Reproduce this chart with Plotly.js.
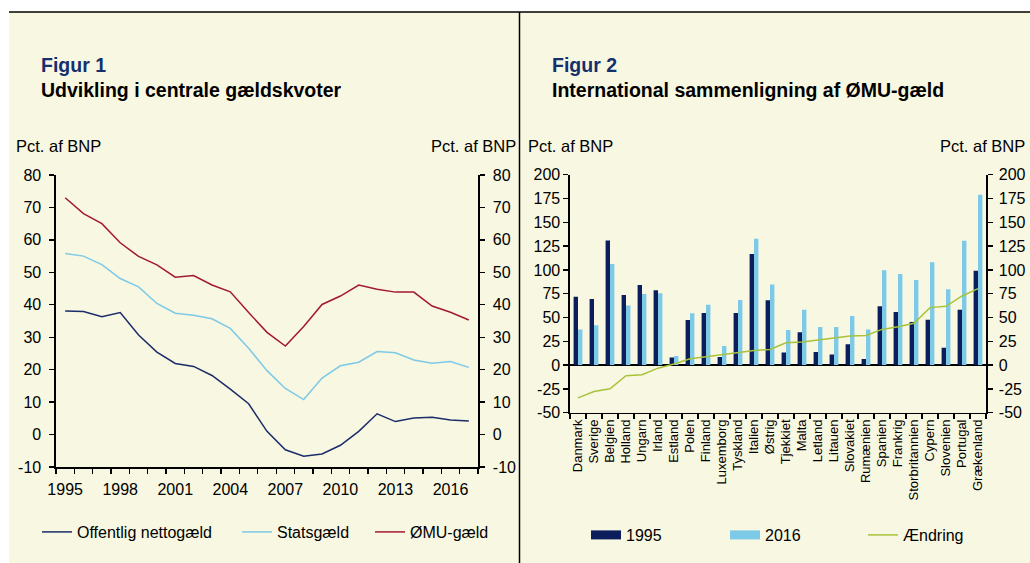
<!DOCTYPE html>
<html>
<head>
<meta charset="utf-8">
<script src="https://cdn.plot.ly/plotly-3.0.1.min.js"></script>
<style>
html, body { margin: 0; padding: 0; background: #ffffff; }
#chart { width: 1030px; height: 563px; }
</style>
</head>
<body>
<div id="chart"></div>
<script>
// ---------- Figur 1 data ----------
const years = [1995, 1996, 1997, 1998, 1999, 2000, 2001, 2002, 2003, 2004, 2005, 2006,
               2007, 2008, 2009, 2010, 2011, 2012, 2013, 2014, 2015, 2016, 2017];
const nettogaeld = [38.1, 37.9, 36.3, 37.6, 30.7, 25.4, 21.9, 21.0, 18.2, 14.0, 9.5, 1.0,
                    -4.7, -6.7, -6.0, -3.3, 1.0, 6.4, 4.0, 5.1, 5.3, 4.5, 4.2];
const statsgaeld = [55.8, 55.0, 52.4, 48.1, 45.5, 40.4, 37.4, 36.8, 35.7, 32.7, 26.6, 19.7,
                    14.2, 10.8, 17.4, 21.2, 22.3, 25.6, 25.2, 23.0, 22.0, 22.5, 20.7];
const emuGaeld   = [73.0, 68.1, 65.0, 59.1, 54.9, 52.3, 48.5, 49.0, 46.1, 44.0, 37.6, 31.5,
                    27.3, 33.3, 40.1, 42.7, 46.1, 44.8, 43.9, 43.9, 39.6, 37.7, 35.3];
const yearTickVals = [1995, 1998, 2001, 2004, 2007, 2010, 2013, 2016];
const fig1YTickVals = [-10, 0, 10, 20, 30, 40, 50, 60, 70, 80];
const fig1YTickText = ['-10', '0', '10', '20', '30', '40', '50', '60', '70', '80'];

// ---------- Figur 2 data ----------
const countries = ['Danmark', 'Sverige', 'Belgien', 'Holland', 'Ungarn', 'Irland', 'Estland',
                   'Polen', 'Finland', 'Luxemborg', 'Tyskland', 'Italien', 'Østrig', 'Tjekkiet',
                   'Malta', 'Letland', 'Litauen', 'Slovakiet', 'Rumænien', 'Spanien', 'Frankrig',
                   'Storbritannien', 'Cypern', 'Slovenien', 'Portugal', 'Grækenland'];
const debt1995 = [71.9, 69.5, 130.9, 73.7, 84.2, 78.6, 8.1, 47.4, 54.7, 8.4, 54.7, 116.8, 68.1,
                  13.3, 34.4, 13.7, 11.2, 21.8, 6.3, 61.8, 55.8, 45.3, 47.7, 18.2, 58.2, 99.0];
const debt2016 = [37.5, 41.8, 106.3, 62.5, 74.7, 75.4, 9.5, 54.4, 63.5, 20.0, 68.4, 132.6, 84.6,
                  36.8, 58.2, 40.0, 40.0, 51.6, 37.5, 99.7, 95.8, 89.5, 108.1, 79.7, 130.5, 179.0];
const aendring = [-34.4, -27.7, -24.9, -11.2, -10.2, -3.2, 1.1, 6.7, 8.8, 11.2, 13.3, 15.4, 16.5,
                  23.5, 24.2, 26.3, 28.8, 30.5, 31.2, 37.5, 40.4, 43.9, 60.4, 61.8, 72.6, 80.4];
const fig2YTickVals = [-50, -25, 0, 25, 50, 75, 100, 125, 150, 175, 200];
const fig2YTickText = ['-50', '-25', '0', '25', '50', '75', '100', '125', '150', '175', '200'];

// ---------- helpers / styles ----------
const W = 1030, H = 563;
const px = x => x / W;
const py = y => 1 - y / H;
const FONT = '"Liberation Sans", Arial, sans-serif';
const CREAM = '#F8F7E1';
const NAVY_LINE = '#1B2C6B';
const LIGHT_BLUE = '#7CC9E8';
const RED = '#A3192F';
const NAVY_BAR = '#0B1D5A';
const GREEN = '#A9C23C';
const TITLE_NAVY = '#15306E';

const traces = [
  { type: 'scatter', mode: 'lines', name: 'Offentlig nettogæld', x: years, y: nettogaeld,
    xaxis: 'x', yaxis: 'y', line: { color: NAVY_LINE, width: 1.5 }, legend: 'legend' },
  { type: 'scatter', mode: 'lines', name: 'Statsgæld', x: years, y: statsgaeld,
    xaxis: 'x', yaxis: 'y', line: { color: LIGHT_BLUE, width: 1.5 }, legend: 'legend2' },
  { type: 'scatter', mode: 'lines', name: 'ØMU-gæld', x: years, y: emuGaeld,
    xaxis: 'x', yaxis: 'y2', line: { color: RED, width: 1.5 }, legend: 'legend3' },
  { type: 'bar', name: '1995', x: countries, y: debt1995, xaxis: 'x2', yaxis: 'y3',
    marker: { color: NAVY_BAR, line: { width: 0 } }, showlegend: false, legendgroup: 'b1995' },
  { type: 'bar', name: '2016', x: countries, y: debt2016, xaxis: 'x2', yaxis: 'y3',
    marker: { color: LIGHT_BLUE, line: { width: 0 } }, showlegend: false, legendgroup: 'b2016' },
  { type: 'scatter', mode: 'lines', name: 'Ændring', x: countries, y: aendring,
    xaxis: 'x2', yaxis: 'y4', line: { color: GREEN, width: 1.5 }, legend: 'legend6' },
  // legend keys for the bar series (rectangular keys as in the original; they draw nothing in the plot)
  { type: 'scatter', mode: 'lines', name: '1995', x: [null], y: [null], xaxis: 'x2', yaxis: 'y3',
    line: { color: NAVY_BAR, width: 9 }, legend: 'legend4', legendgroup: 'b1995' },
  { type: 'scatter', mode: 'lines', name: '2016', x: [null], y: [null], xaxis: 'x2', yaxis: 'y3',
    line: { color: LIGHT_BLUE, width: 9 }, legend: 'legend5', legendgroup: 'b2016' }
];

const yCommon = {
  ticks: 'outside', ticklen: 5, tickwidth: 1.3, tickcolor: '#000',
  showline: true, linecolor: '#000', linewidth: 1.6,
  showgrid: false, zeroline: false, fixedrange: true,
  tickfont: { family: FONT, size: 16, color: '#000' }, tickmode: 'array'
};

function legendAt(xText, yCenter) {
  return {
    x: px(xText - 40), y: py(yCenter), xanchor: 'left', yanchor: 'middle',
    orientation: 'h', bgcolor: 'rgba(0,0,0,0)', borderwidth: 0,
    font: { family: FONT, size: 16, color: '#000' }, itemclick: false, itemdoubleclick: false
  };
}

const ann = (text, x, y, anchor, size, color) => ({
  text: text, x: px(x), y: py(y), xref: 'paper', yref: 'paper',
  xanchor: anchor, yanchor: 'middle', showarrow: false,
  font: { family: FONT, size: size, color: color }
});

const layout = {
  width: W, height: H,
  margin: { l: 0, r: 0, t: 0, b: 0 },
  paper_bgcolor: '#ffffff', plot_bgcolor: 'rgba(0,0,0,0)',
  font: { family: FONT, size: 16, color: '#000' },
  showlegend: true,
  barmode: 'group', bargap: 0.45, bargroupgap: 0,
  xaxis: {
    domain: [px(56), px(478)], anchor: 'y', range: [1994.5, 2017.5],
    tickmode: 'array', tickvals: yearTickVals, ticktext: yearTickVals.map(String),
    ticks: 'outside', ticklen: 7, tickcolor: 'rgba(0,0,0,0)',
    minor: { tickmode: 'linear', tick0: 1994.5, dtick: 1, ticks: 'outside', ticklen: 5,
             tickcolor: '#000', tickwidth: 1.3, showgrid: false },
    showline: true, linecolor: '#000', linewidth: 1.6, showgrid: false, zeroline: false,
    tickfont: { family: FONT, size: 16, color: '#000' }, fixedrange: true
  },
  yaxis: Object.assign({}, yCommon, {
    domain: [py(467), py(175)], anchor: 'x', range: [-10, 80], side: 'left',
    tickvals: fig1YTickVals, ticktext: fig1YTickText, ticklabelstandoff: 5
  }),
  yaxis2: Object.assign({}, yCommon, {
    overlaying: 'y', anchor: 'x', side: 'right', range: [-10, 80],
    tickvals: fig1YTickVals, ticktext: fig1YTickText, ticklabelstandoff: 5
  }),
  xaxis2: {
    domain: [px(570), px(986)], anchor: 'y3', type: 'category', range: [-0.5, 25.5],
    tickson: 'boundaries', ticks: 'outside', ticklen: 5, tickwidth: 1.3, tickcolor: '#000',
    tickangle: -90, showline: true, linecolor: '#000', linewidth: 1.6,
    showgrid: false, zeroline: false, fixedrange: true,
    tickfont: { family: FONT, size: 13, color: '#000' }
  },
  yaxis3: Object.assign({}, yCommon, {
    domain: [py(412.7), py(174.7)], anchor: 'x2', range: [-50, 200], side: 'left',
    tickvals: fig2YTickVals, ticktext: fig2YTickText,
    zeroline: true, zerolinecolor: '#000', zerolinewidth: 1.6
  }),
  yaxis4: Object.assign({}, yCommon, {
    overlaying: 'y3', anchor: 'x2', side: 'right', range: [-50, 200],
    tickvals: fig2YTickVals, ticktext: fig2YTickText, ticklabelstandoff: 3
  }),
  legend:  legendAt(77, 532),
  legend2: legendAt(277, 532),
  legend3: legendAt(410, 532),
  legend4: legendAt(626, 535),
  legend5: legendAt(765, 535),
  legend6: legendAt(903, 535),
  shapes: [
    { type: 'rect', xref: 'paper', yref: 'paper', x0: px(9), x1: 1, y0: 0, y1: py(12),
      fillcolor: CREAM, line: { width: 0 }, layer: 'below' },
    { type: 'line', xref: 'paper', yref: 'paper', x0: px(9), x1: 1, y0: py(12), y1: py(12),
      line: { color: '#000', width: 1.5 } },
    { type: 'line', xref: 'paper', yref: 'paper', x0: px(519.5), x1: px(519.5), y0: 0, y1: py(12),
      line: { color: '#000', width: 1.5 } }
  ],
  annotations: [
    ann('<b>Figur 1</b>', 39, 65, 'left', 19.5, TITLE_NAVY),
    ann('<b>Udvikling i centrale gældskvoter</b>', 39, 90, 'left', 19.5, '#000'),
    ann('Pct. af BNP', 14, 146, 'left', 16.5, '#000'),
    ann('Pct. af BNP', 518, 146, 'right', 16.5, '#000'),
    ann('<b>Figur 2</b>', 550, 65, 'left', 19.5, TITLE_NAVY),
    ann('<b>International sammenligning af ØMU-gæld</b>', 550, 90, 'left', 19.5, '#000'),
    ann('Pct. af BNP', 526, 146, 'left', 16.5, '#000'),
    ann('Pct. af BNP', 1027, 146, 'right', 16.5, '#000')
  ]
};

Plotly.newPlot('chart', traces, layout, { staticPlot: true, displayModeBar: false });
</script>
</body>
</html>
